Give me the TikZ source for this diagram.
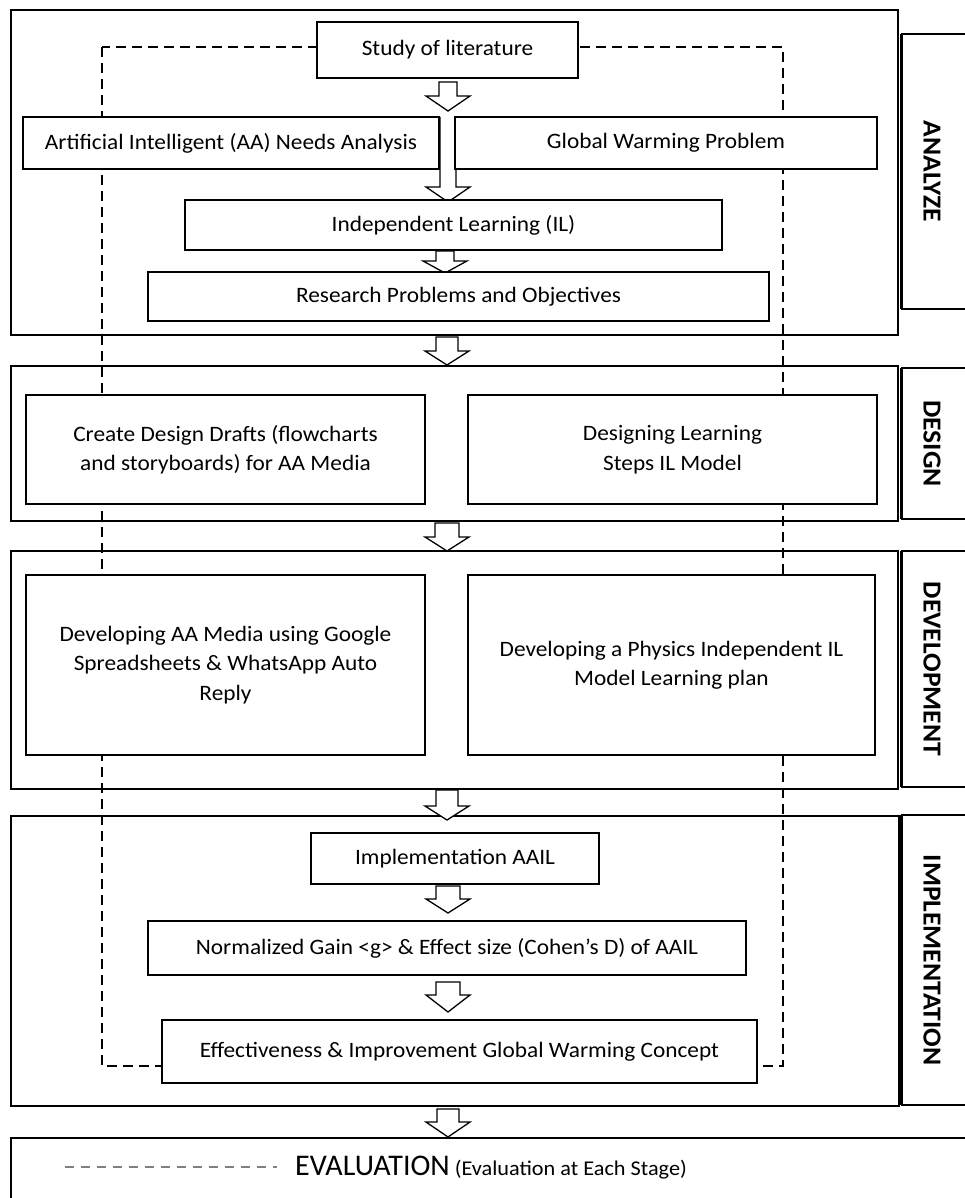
\documentclass[tikz,border=0pt]{standalone}
\usepackage{fontspec}
\setmainfont{Carlito}[FakeStretch=1.06]
\newfontfamily\plainfont{Carlito}
\usetikzlibrary{calc}
\tikzset{
  stagebox/.style={draw, line width=2pt, rectangle, inner sep=0pt},
  stageline/.style={draw, line width=2pt},
  tabline/.style={draw, line width=3pt},
  procbox/.style={draw, line width=2.5pt, fill=white, rectangle, inner sep=0pt,
    align=center, font=\fontsize{22}{29.5}\selectfont},
  tablabel/.style={rotate=-90, inner sep=0pt, font=\bfseries\fontsize{26}{26}\selectfont},
  barrow/.style={draw, line width=1.3pt, fill=white, line join=miter},
  loopline/.style={draw, line width=1.2pt, dash pattern=on 10pt off 6pt},
  evdash/.style={draw, line width=1.5pt, gray, dash pattern=on 9pt off 7pt},
}
% #1 half shaft width, #2 head length, #3 start coordinate, #4 tip coordinate
\newcommand\blockarr[4]{%
  \draw[barrow] ($(#3)+(-#1,0)$) -- ($(#4)+(-#1,-#2)$) -- ($(#4)+(-22,-#2)$) -- (#4)
    -- ($(#4)+(22,-#2)$) -- ($(#4)+(#1,-#2)$) -- ($(#3)+(#1,0)$) -- cycle;}
\newcommand\openblockarr[4]{%
  \fill[white] ($(#3)+(-#1,0)$) rectangle ($(#4)+(#1,-#2)$);
  \draw[barrow] ($(#3)+(-#1,0)$) -- ($(#4)+(-#1,-#2)$) -- ($(#4)+(-22,-#2)$) -- (#4)
    -- ($(#4)+(22,-#2)$) -- ($(#4)+(#1,-#2)$) -- ($(#3)+(#1,0)$);}
\begin{document}
\begin{tikzpicture}[x=1pt,y=-1pt]
\useasboundingbox (0,0) rectangle (965,1198);
\clip (0,0) rectangle (965,1198);

% stage boxes
\node[stagebox, minimum width=887, minimum height=325] (analyze) at (454.5,172.5) {};
\node[stagebox, minimum width=887, minimum height=155] (design) at (454.5,443.5) {};
\node[stagebox, minimum width=887, minimum height=238] (develop) at (454.5,670) {};
\node[stagebox, minimum width=888, minimum height=290] (implement) at (455,961) {};
\draw[stageline] (11,1215) -- (11,1138) -- (985,1138);

% stage tabs
\draw[stageline] (985,34) -- (901,34) (901,309) -- (985,309);
\draw[stageline] (985,368) -- (901,368) (901,519) -- (985,519);
\draw[stageline] (985,551) -- (901,551) (901,787) -- (985,787);
\draw[stageline] (985,815) -- (901,815) (901,1105) -- (985,1105);
\draw[tabline] (901,34) -- (901,309);
\draw[tabline] (901,368) -- (901,519);
\draw[tabline] (901,551) -- (901,787);
\draw[tabline] (901,815) -- (901,1105);
\node[tablabel] (labA) at (932,171.5) {ANALYZE};
\node[tablabel] (labD) at (932,443.5) {DESIGN};
\node[tablabel] (labV) at (932,669) {DEVELOPMENT};
\node[tablabel] (labI) at (932,960) {IMPLEMENTATION};

% evaluation loop (dashed)
\draw[loopline] (102,47) rectangle (783,1066);

% block arrows
\coordinate (a1s) at (448,82);   \coordinate (a1e) at (448,111);
\coordinate (a2s) at (448,117);  \coordinate (a2e) at (448,202);
\coordinate (a3s) at (445,251);  \coordinate (a3e) at (445,273);
\coordinate (a4s) at (447,337);  \coordinate (a4e) at (447,365);
\coordinate (a5s) at (447,523);  \coordinate (a5e) at (447,551);
\coordinate (a6s) at (447,790);  \coordinate (a6e) at (447,820);
\coordinate (a7s) at (448,886);  \coordinate (a7e) at (448,913);
\coordinate (a8s) at (448,982);  \coordinate (a8e) at (448,1012);
\coordinate (a9s) at (448,1109); \coordinate (a9e) at (448,1137);
\blockarr{9}{15}{a1s}{a1e}
\openblockarr{8}{15}{a2s}{a2e}
\blockarr{9}{12}{a3s}{a3e}
\blockarr{11}{14}{a4s}{a4e}
\blockarr{12}{14}{a5s}{a5e}
\blockarr{11}{14}{a6s}{a6e}
\blockarr{12}{14}{a7s}{a7e}
\blockarr{12}{17}{a8s}{a8e}
\blockarr{11}{15}{a9s}{a9e}

% process boxes
\node[procbox, minimum width=261, minimum height=56] (study) at (447.5,50) {Study of literature};
\node[procbox, minimum width=416, minimum height=52] (aa) at (231,143) {Artificial Intelligent (AA) Needs Analysis};
\node[procbox, minimum width=422, minimum height=52] (gw) at (666,143) {Global Warming Problem};
\node[procbox, minimum width=537, minimum height=50] (il) at (453.5,225) {Independent Learning (IL)};
\node[procbox, minimum width=621, minimum height=49] (rp) at (458.5,296.5) {Research Problems and Objectives};
\node[procbox, minimum width=399, minimum height=109] (cdd) at (225.5,449.5) {Create Design Drafts (flowcharts\\and storyboards) for AA Media};
\node[procbox, minimum width=409, minimum height=109] (dls) at (672.5,449.5) {Designing Learning\\Steps IL Model};
\node[procbox, minimum width=399, minimum height=180] (dev1) at (225.5,665) {Developing AA Media using Google\\Spreadsheets \& WhatsApp Auto\\Reply};
\node[procbox, minimum width=407, minimum height=180] (dev2) at (671.5,665) {Developing a Physics Independent IL\\Model Learning plan};
\node[procbox, minimum width=288, minimum height=51] (impl) at (455,858.5) {Implementation AAIL};
\node[procbox, minimum width=598, minimum height=54] (ng) at (447,948) {Normalized Gain <g> \& Effect size (Cohen's D) of AAIL};
\node[procbox, minimum width=595, minimum height=63] (eff) at (459.5,1051.5) {Effectiveness \& Improvement Global Warming Concept};

% evaluation row
\coordinate (evs) at (65,1167);
\coordinate (eve) at (277,1167);
\draw[evdash] (evs) -- (eve);
\node[anchor=base west, inner sep=0pt] (evaltxt) at (295,1175)
  {{\plainfont\fontsize{30}{30}\selectfont EVALUATION}{\fontsize{21}{24}\selectfont\ (Evaluation at Each Stage)}};
\end{tikzpicture}
\end{document}
